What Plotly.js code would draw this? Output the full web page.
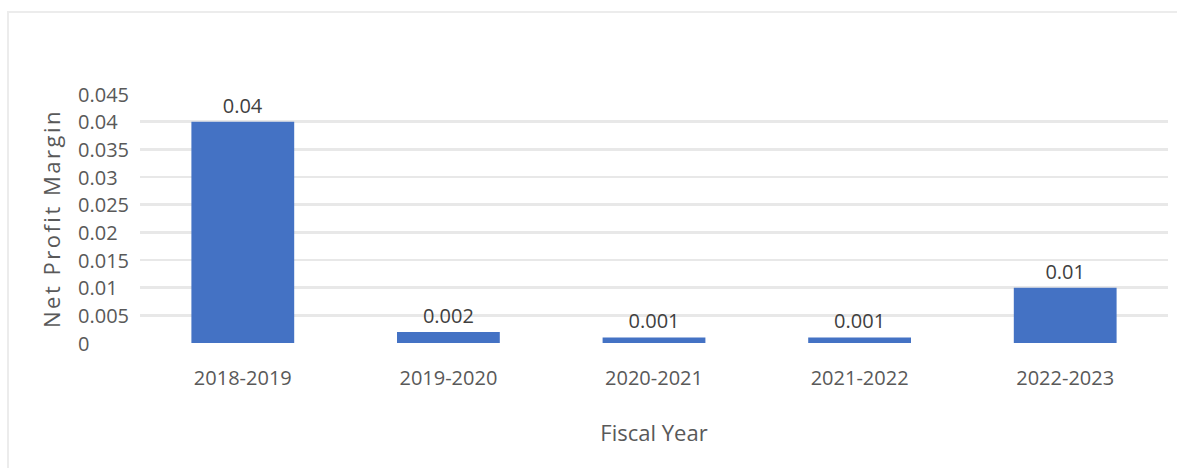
<!DOCTYPE html>
<html>
<head>
<meta charset="utf-8">
<script src="https://cdn.plot.ly/plotly-3.0.1.min.js"></script>
<style>
  html, body { margin: 0; padding: 0; background: #ffffff; }
  #wrap { position: relative; width: 1177px; height: 468px; }
  #chart { position: absolute; left: 0; top: 0; width: 1177px; height: 468px; }
  #frame { position: absolute; left: 7px; top: 11px; width: 1170px; height: 457px;
           border-left: 2px solid #ececec; border-top: 2px solid #ececec; box-sizing: border-box; pointer-events: none; }
  #chart .g-ytitle text { letter-spacing: 2.5px; }
</style>
</head>
<body>
<div id="wrap">
  <div id="chart"></div>
  <div id="frame"></div>
</div>
<script>
const categories = ["2018-2019", "2019-2020", "2020-2021", "2021-2022", "2022-2023"];
const netProfitMargin = [0.04, 0.002, 0.001, 0.001, 0.01];
const barLabels = ["0.04", "0.002", "0.001", "0.001", "0.01"];
const yTickValues = [0, 0.005, 0.01, 0.015, 0.02, 0.025, 0.03, 0.035, 0.04, 0.045];
const yTickLabels = ["0", "0.005", "0.01", "0.015", "0.02", "0.025", "0.03", "0.035", "0.04", "0.045"];
const xTitle = "Fiscal Year";
const yTitle = "Net Profit Margin";

const FONT = "Open Sans, DejaVu Sans, sans-serif";
const GREY = "#595959";

const trace = {
  type: "bar",
  x: categories,
  y: netProfitMargin,
  text: barLabels,
  textposition: "outside",
  cliponaxis: false,
  textfont: { family: FONT, size: 20, color: "#404040" },
  marker: { color: "#4472C4", line: { width: 0 } },
  hoverinfo: "x+y"
};

const annotations = yTickValues.map((v, i) => ({
  xref: "paper", yref: "y",
  x: -0.0623, y: v,
  xanchor: "left", yanchor: "middle",
  text: yTickLabels[i],
  showarrow: false,
  font: { family: FONT, size: 20, color: GREY }
}));

const layout = {
  width: 1177, height: 468,
  margin: { l: 140, r: 9, t: 94, b: 125, pad: 0 },
  paper_bgcolor: "#ffffff",
  plot_bgcolor: "#ffffff",
  showlegend: false,
  bargap: 0.5,
  font: { family: FONT, size: 20, color: GREY },
  xaxis: {
    type: "category",
    showgrid: false,
    showline: false,
    zeroline: false,
    ticks: "",
    ticklabelstandoff: 21,
    tickfont: { family: FONT, size: 20, color: GREY },
    title: { text: xTitle, standoff: 35, font: { family: FONT, size: 22, color: GREY } },
    automargin: false
  },
  yaxis: {
    range: [0, 0.045],
    tickvals: yTickValues.slice(1),
    showticklabels: false,
    showgrid: true,
    gridcolor: "#e8e8e8",
    gridwidth: 2.5,
    zeroline: false,
    showline: false,
    ticks: "",
    title: { text: yTitle, standoff: 72, font: { family: FONT, size: 22, color: GREY } },
    automargin: false
  },
  annotations: annotations
};

Plotly.newPlot("chart", [trace], layout, { displayModeBar: false, staticPlot: true });
</script>
</body>
</html>
